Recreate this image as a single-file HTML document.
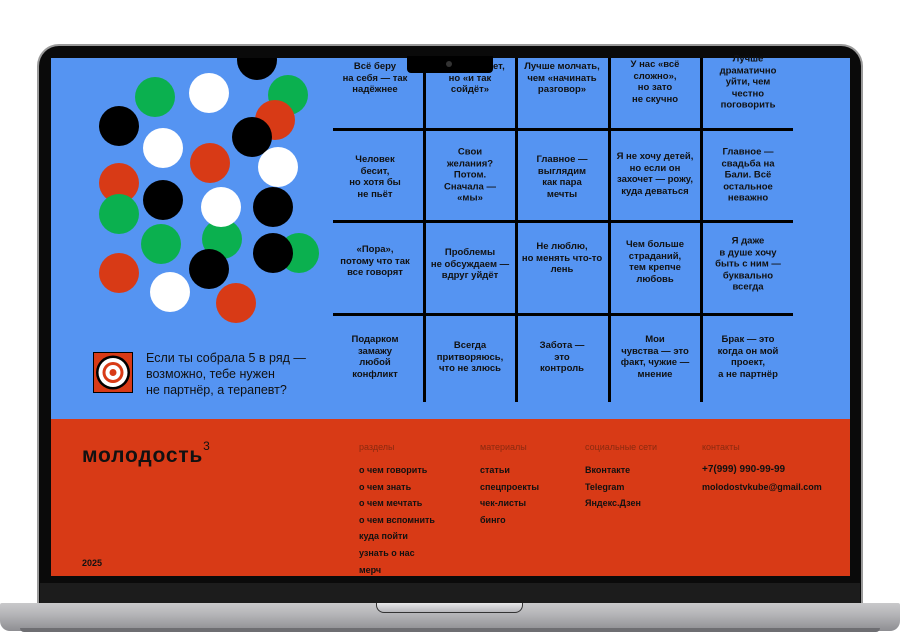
<!DOCTYPE html>
<html><head><meta charset="utf-8"><style>
*{margin:0;padding:0;box-sizing:border-box}
body{width:900px;height:638px;background:#fff;position:relative;overflow:hidden;font-family:"Liberation Sans","DejaVu Sans",sans-serif}
.abs{position:absolute}
.c{position:absolute;width:40px;height:40px;border-radius:50%}
.k{background:#000}.w{background:#fff}.g{background:#0bb04f}.r{background:#d83a16}
.cell{position:absolute;width:92px;text-align:center;font-size:9.5px;line-height:11.5px;font-weight:bold;color:#111;transform:translate(-50%,-50%)}
.vl{position:absolute;width:3px;background:#000;top:58px;height:344px}
.hl{position:absolute;height:3px;background:#000;left:333px;width:460px}
.ft{position:absolute;font-size:9px;font-weight:bold;color:#111}
.fh{position:absolute;font-size:9px;color:#8a2a10}
</style></head><body>
<div class="abs" style="left:37px;top:44px;width:826px;height:565px;background:#9a9a9a;border-radius:22px 22px 0 0"></div>
<div class="abs" style="left:39px;top:46px;width:822px;height:563px;background:#0a0a0a;border-radius:20px 20px 0 0"></div>
<div class="abs" style="left:40px;top:583px;width:820px;height:22px;background:#1c1c1c"></div>
<div class="abs" style="left:51px;top:58px;width:799px;height:361px;background:#5594f2;overflow:hidden">
 <div class="c k" style="left:186px;top:-18px"></div>
</div>
<div class="abs" style="left:51px;top:419px;width:799px;height:157px;background:#d83a16"></div>
<div class="c g" style="left:135px;top:77px"></div>
<div class="c w" style="left:189px;top:73px"></div>
<div class="c g" style="left:268px;top:75px"></div>
<div class="c r" style="left:255px;top:100px"></div>
<div class="c k" style="left:99px;top:106px"></div>
<div class="c k" style="left:232px;top:117px"></div>
<div class="c w" style="left:143px;top:128px"></div>
<div class="c r" style="left:190px;top:143px"></div>
<div class="c w" style="left:258px;top:147px"></div>
<div class="c r" style="left:99px;top:163px"></div>
<div class="c k" style="left:143px;top:180px"></div>
<div class="c g" style="left:99px;top:194px"></div>
<div class="c g" style="left:202px;top:219px"></div>
<div class="c w" style="left:201px;top:187px"></div>
<div class="c k" style="left:253px;top:187px"></div>
<div class="c g" style="left:141px;top:224px"></div>
<div class="c g" style="left:279px;top:233px"></div>
<div class="c k" style="left:253px;top:233px"></div>
<div class="c k" style="left:189px;top:249px"></div>
<div class="c r" style="left:99px;top:253px"></div>
<div class="c w" style="left:150px;top:272px"></div>
<div class="c r" style="left:216px;top:283px"></div>
<div class="vl" style="left:423px"></div><div class="vl" style="left:515px"></div>
<div class="vl" style="left:608px"></div><div class="vl" style="left:700px"></div>
<div class="hl" style="top:128px"></div><div class="hl" style="top:220px"></div><div class="hl" style="top:313px"></div>
<div class="cell" style="left:375px;top:78px">Всё беру<br>на себя — так<br>надёжнее</div>
<div class="cell" style="left:470px;top:78px">Не устраивает,<br>но «и так<br>сойдёт»</div>
<div class="cell" style="left:562px;top:78px">Лучше молчать,<br>чем «начинать<br>разговор»</div>
<div class="cell" style="left:655px;top:82px">У нас «всё<br>сложно»,<br>но зато<br>не скучно</div>
<div class="cell" style="left:748px;top:82px">Лучше<br>драматично<br>уйти, чем<br>честно<br>поговорить</div>
<div class="cell" style="left:375px;top:177px">Человек<br>бесит,<br>но хотя бы<br>не пьёт</div>
<div class="cell" style="left:470px;top:175px">Свои<br>желания?<br>Потом.<br>Сначала —<br>«мы»</div>
<div class="cell" style="left:562px;top:177px">Главное —<br>выглядим<br>как пара<br>мечты</div>
<div class="cell" style="left:655px;top:174px">Я не хочу детей,<br>но если он<br>захочет — рожу,<br>куда деваться</div>
<div class="cell" style="left:748px;top:175px">Главное —<br>свадьба на<br>Бали. Всё<br>остальное<br>неважно</div>
<div class="cell" style="left:375px;top:261px">«Пора»,<br>потому что так<br>все говорят</div>
<div class="cell" style="left:470px;top:264px">Проблемы<br>не обсуждаем —<br>вдруг уйдёт</div>
<div class="cell" style="left:562px;top:258px">Не люблю,<br>но менять что-то<br>лень</div>
<div class="cell" style="left:655px;top:262px">Чем больше<br>страданий,<br>тем крепче<br>любовь</div>
<div class="cell" style="left:748px;top:264px">Я даже<br>в душе хочу<br>быть с ним —<br>буквально<br>всегда</div>
<div class="cell" style="left:375px;top:357px">Подарком<br>замажу<br>любой<br>конфликт</div>
<div class="cell" style="left:470px;top:357px">Всегда<br>притворяюсь,<br>что не злюсь</div>
<div class="cell" style="left:562px;top:357px">Забота —<br>это<br>контроль</div>
<div class="cell" style="left:655px;top:357px">Мои<br>чувства — это<br>факт, чужие —<br>мнение</div>
<div class="cell" style="left:748px;top:357px">Брак — это<br>когда он мой<br>проект,<br>а не партнёр</div>
<div class="abs" style="left:407px;top:56px;width:86px;height:17px;background:#000;border-radius:0 0 4px 4px"></div>
<div class="abs" style="left:446px;top:61px;width:6px;height:6px;border-radius:50%;background:#333"></div>
<svg class="abs" style="left:93px;top:352px" width="40" height="41" viewBox="0 0 40 41">
<rect x="0.5" y="0.5" width="39" height="40" fill="#d83a16" stroke="#000" stroke-width="1"/>
<circle cx="20" cy="20.5" r="17" fill="#000"/><circle cx="20" cy="20.5" r="14.5" fill="#fff"/>
<circle cx="20" cy="20.5" r="10.5" fill="#d83a16"/><circle cx="20" cy="20.5" r="7.5" fill="#fff"/>
<circle cx="20" cy="20.5" r="3.5" fill="#d83a16"/></svg>
<div class="abs" style="left:146px;top:350px;font-size:12.5px;line-height:16px;color:#111">Если ты собрала 5 в ряд —<br>возможно, тебе нужен<br>не партнёр, а терапевт?</div>
<div class="abs" style="left:82px;top:443px;font-size:21px;font-weight:bold;color:#111;letter-spacing:0.8px">молодость<sup style="font-size:12px;font-weight:normal;position:relative;top:-4px">3</sup></div>
<div class="ft" style="left:82px;top:558px">2025</div>
<div class="fh" style="left:359px;top:442px">разделы</div>
<div class="fh" style="left:480px;top:442px">материалы</div>
<div class="fh" style="left:585px;top:442px">социальные сети</div>
<div class="fh" style="left:702px;top:442px">контакты</div>
<div class="ft" style="left:359px;top:462px;line-height:16.6px">о чем говорить<br>о чем знать<br>о чем мечтать<br>о чем вспомнить<br>куда пойти<br>узнать о нас<br>мерч</div>
<div class="ft" style="left:480px;top:462px;line-height:16.6px">статьи<br>спецпроекты<br>чек-листы<br>бинго</div>
<div class="ft" style="left:585px;top:462px;line-height:16.6px">Вконтакте<br>Telegram<br>Яндекс.Дзен</div>
<div class="ft" style="left:702px;top:461px;line-height:16.6px"><span style="font-size:10px">+7(999) 990-99-99</span><br>molodostvkube@gmail.com</div>
<div class="abs" style="left:0;top:603px;width:900px;height:28px;background:linear-gradient(#c9c9cb,#b5b5b8 40%,#8e8e92);border-radius:2px 2px 10px 10px"></div>
<div class="abs" style="left:20px;top:628px;width:860px;height:4px;background:#6e6e72;border-radius:0 0 8px 8px"></div>
<div class="abs" style="left:376px;top:603px;width:147px;height:10px;background:linear-gradient(#e8e8ea,#b8b8bc);border-radius:0 0 8px 8px;border:1px solid #333;border-top:none"></div>
</body></html>
